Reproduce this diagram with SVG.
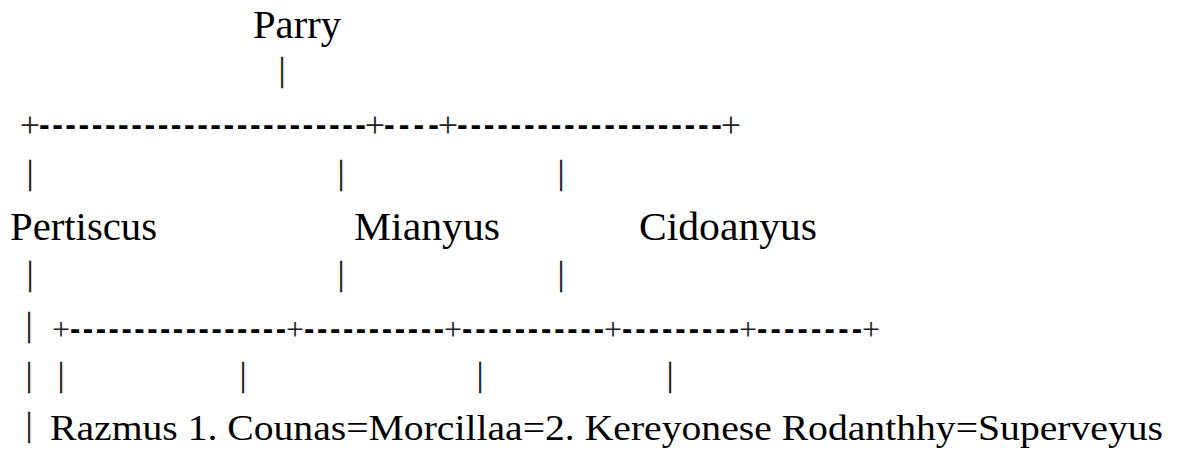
<svg xmlns="http://www.w3.org/2000/svg" width="1186" height="453" viewBox="0 0 1186 453">
<style>
  .lbl { font-family: "Liberation Serif", "Times New Roman", serif; fill: #000; }
  .pipe { font-family: "Liberation Serif", "Times New Roman", serif; font-size: 33px; fill: #111; stroke: #111; stroke-width: 0.3; text-anchor: middle; }
  .plus { font-family: "Liberation Serif", "Times New Roman", serif; fill: #222; text-anchor: middle; }
  .dash { font-family: "Liberation Sans", Arial, sans-serif; font-weight: bold; fill: #000; }
</style>
<rect width="1186" height="453" fill="#ffffff"/>

<g id="node-parry">
  <text class="lbl" x="253" y="38" font-size="40" textLength="88" lengthAdjust="spacingAndGlyphs">Parry</text>
</g>
<g id="node-pertiscus">
  <text class="lbl" x="10" y="240" font-size="40" textLength="147" lengthAdjust="spacingAndGlyphs">Pertiscus</text>
</g>
<g id="node-mianyus">
  <text class="lbl" x="354" y="240" font-size="40" textLength="146" lengthAdjust="spacingAndGlyphs">Mianyus</text>
</g>
<g id="node-cidoanyus">
  <text class="lbl" x="639" y="240" font-size="40" textLength="178" lengthAdjust="spacingAndGlyphs">Cidoanyus</text>
</g>
<g id="node-children">
  <text class="lbl" x="50" y="440" font-size="36" textLength="1113" lengthAdjust="spacingAndGlyphs">Razmus 1. Counas=Morcillaa=2. Kereyonese Rodanthhy=Superveyus</text>
</g>

<g id="connectors">
  <!-- row 2 -->
  <text class="pipe" x="282" y="81">|</text>
  <!-- row 3 -->
  <text class="plus" x="30" y="137" font-size="36">+</text>
  <text class="dash" x="39" y="135" font-size="32" textLength="327" lengthAdjust="spacing">-------------------------</text>
  <text class="plus" x="375" y="137" font-size="36">+</text>
  <text class="dash" x="384" y="135" font-size="32" textLength="55" lengthAdjust="spacing">----</text>
  <text class="plus" x="448" y="137" font-size="36">+</text>
  <text class="dash" x="457" y="135" font-size="32" textLength="265" lengthAdjust="spacing">--------------------</text>
  <text class="plus" x="731" y="137" font-size="36">+</text>
  <!-- row 4 -->
  <text class="pipe" x="30" y="184">|</text>
  <text class="pipe" x="341" y="184">|</text>
  <text class="pipe" x="561" y="184">|</text>
  <!-- row 6 -->
  <text class="pipe" x="30" y="285">|</text>
  <text class="pipe" x="341" y="285">|</text>
  <text class="pipe" x="561" y="285">|</text>
  <!-- row 7 -->
  <text class="pipe" x="29" y="336">|</text>
  <text class="plus" x="61" y="340" font-size="32">+</text>
  <text class="dash" x="70" y="339" font-size="31" textLength="216" lengthAdjust="spacing">-----------------</text>
  <text class="plus" x="295" y="340" font-size="32">+</text>
  <text class="dash" x="304" y="339" font-size="31" textLength="140" lengthAdjust="spacing">-----------</text>
  <text class="plus" x="453" y="340" font-size="32">+</text>
  <text class="dash" x="462" y="339" font-size="31" textLength="142" lengthAdjust="spacing">-----------</text>
  <text class="plus" x="613" y="340" font-size="32">+</text>
  <text class="dash" x="622" y="339" font-size="31" textLength="117" lengthAdjust="spacing">---------</text>
  <text class="plus" x="748" y="340" font-size="32">+</text>
  <text class="dash" x="757" y="339" font-size="31" textLength="105" lengthAdjust="spacing">--------</text>
  <text class="plus" x="871" y="340" font-size="32">+</text>
  <!-- row 8 -->
  <text class="pipe" x="29" y="386">|</text>
  <text class="pipe" x="61" y="386">|</text>
  <text class="pipe" x="243" y="386">|</text>
  <text class="pipe" x="480" y="386">|</text>
  <text class="pipe" x="670" y="386">|</text>
  <!-- row 9 -->
  <text class="pipe" x="29" y="436" font-size="31">|</text>
</g>
</svg>
